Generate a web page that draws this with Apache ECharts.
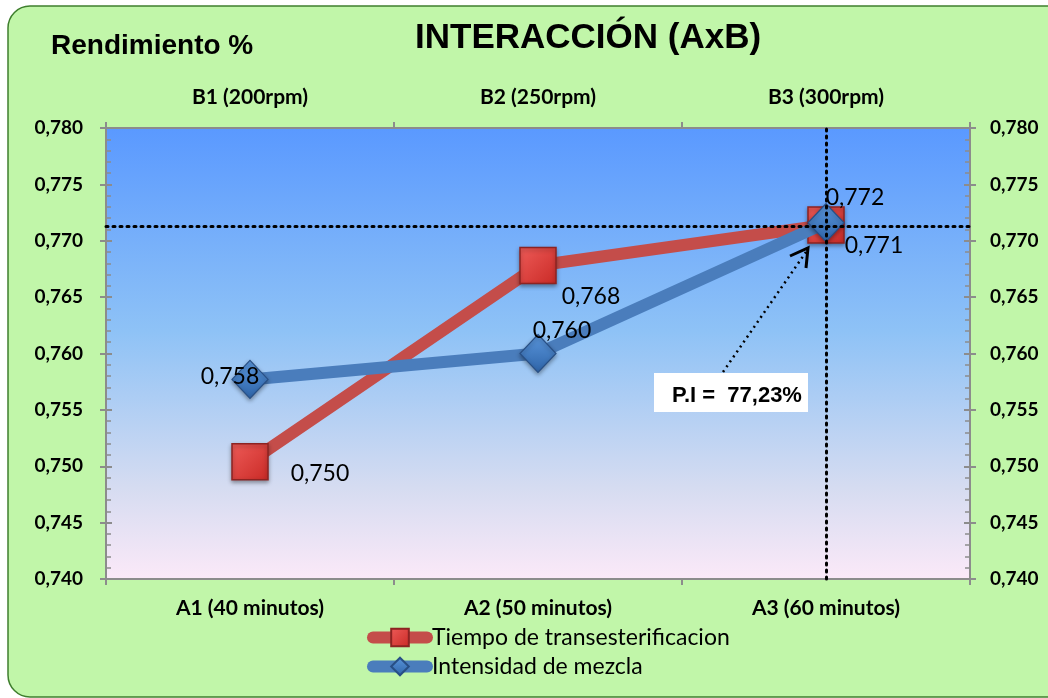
<!DOCTYPE html>
<html><head><meta charset="utf-8">
<script src="https://cdn.jsdelivr.net/npm/echarts@6/dist/echarts.min.js"></script>
<style>html,body{margin:0;padding:0;background:#fff;}#c{width:1048px;height:698px;}</style>
</head><body><div id="c"></div>
<script>
const categoriesA = ['A1 (40 minutos)', 'A2 (50 minutos)', 'A3 (60 minutos)'];
const categoriesB = ['B1 (200rpm)', 'B2 (250rpm)', 'B3 (300rpm)'];
const tiempo = [0.7504, 0.7678, 0.7714];
const intensidad = [0.7577, 0.7600, 0.7716];
const yMin = 0.740, yMax = 0.780, yStep = 0.005;
const piLabel = 'P.I =  77,23%';
const refValue = 0.7713;

const redOffsets = [[70, 12], [53, 31], [48, 21]];
const blueOffsets = [[-20, -3], [24, -23], [29, -25]];

const chart = echarts.init(document.getElementById('c'));
const catFont = {fontFamily: 'Lato', fontWeight: 'bold', fontSize: 21, color: '#000'};
const valFont = {fontFamily: 'Lato', fontWeight: 'bold', fontSize: 19, color: '#000'};
const fmt = v => v.toFixed(3).replace('.', ',');
const gray = '#8c8c8c';

function yAxisDef(pos, labels) {
  return {
    type: 'value', position: pos, min: yMin, max: yMax, interval: yStep,
    axisLine: {show: true, lineStyle: {color: gray, width: 2}},
    axisTick: {show: true, inside: !labels, length: 6, lineStyle: {color: gray, width: 2}},
    minorTick: {show: !labels, splitNumber: 5, length: 5, lineStyle: {color: gray, width: 1.5}},
    axisLabel: {show: labels, ...valFont, margin: pos === 'left' ? 23 : 20, formatter: fmt},
    splitLine: {show: false}
  };
}
const yAxes = [yAxisDef('left', true), yAxisDef('right', true), yAxisDef('left', false), yAxisDef('right', false)];

const option = {
  backgroundColor: '#ffffff',
  animation: false,
  graphic: [
    {type: 'rect', z: -10, shape: {x: 8, y: 6, width: 1070, height: 691, r: 22},
     style: {fill: '#c1f6a9', stroke: '#3f7f2e', lineWidth: 1.5}},
    {type: 'polyline', z: 100, shape: {points: [[723, 372], [806, 252]]},
     style: {stroke: '#000', lineWidth: 2.5, lineDash: [2, 4], fill: null}},
    {type: 'polyline', z: 100, shape: {points: [[790, 256], [808, 248], [806, 268]]},
     style: {stroke: '#000', lineWidth: 3, fill: null}},
    {type: 'rect', z: 100, shape: {x: 654, y: 373, width: 154, height: 39}, style: {fill: '#ffffff'}},
    {type: 'text', z: 101, x: 737, y: 396, style: {text: piLabel, fontFamily: 'Liberation Sans', fontWeight: 'bold', fontSize: 22, fill: '#000', align: 'center', verticalAlign: 'middle'}}
  ],
  title: [
    {text: 'INTERACCIÓN (AxB)', left: 410, top: 16, textStyle: {fontFamily: 'Liberation Sans', fontWeight: 'bold', fontSize: 35, color: '#000'}},
    {text: 'Rendimiento %', left: 46, top: 27, textStyle: {fontFamily: 'Liberation Sans', fontWeight: 'bold', fontSize: 28, color: '#000'}}
  ],
  legend: {
    orient: 'vertical', left: 362, top: 621, itemWidth: 54, itemHeight: 22, itemGap: 6,
    lineStyle: {width: 12, cap: 'round'},
    textStyle: {fontFamily: 'Lato', fontSize: 23, color: '#000'},
    data: ['Tiempo de transesterificacion', 'Intensidad de mezcla']
  },
  grid: {left: 106, right: 78, top: 128, bottom: 119, show: true, borderWidth: 0,
    backgroundColor: new echarts.graphic.LinearGradient(0, 0, 0, 1, [
      {offset: 0, color: '#5a99ff'}, {offset: 0.45, color: '#8ec2f6'}, {offset: 0.8, color: '#d6dcf1'}, {offset: 1, color: '#fbe9f8'}])},
  xAxis: [
    {type: 'category', data: categoriesA, position: 'bottom', boundaryGap: true,
     axisLine: {lineStyle: {color: gray, width: 2}}, axisTick: {show: true, length: 6, lineStyle: {color: gray, width: 2}},
     axisLabel: {...catFont, margin: 19}},
    {type: 'category', data: categoriesB, position: 'top', boundaryGap: true,
     axisLine: {lineStyle: {color: gray, width: 2}}, axisTick: {show: true, length: 6, lineStyle: {color: gray, width: 2}},
     axisLabel: {...catFont, margin: 20}}
  ],
  yAxis: yAxes,
  series: [
    {name: 'Tiempo de transesterificacion', type: 'line', data: tiempo.map((v, i) => ({value: v, label: {offset: redOffsets[i]}})),
     xAxisIndex: 0, yAxisIndex: 0, symbol: 'rect', symbolSize: 36,
     lineStyle: {color: '#c44d4a', width: 12},
     itemStyle: {color: new echarts.graphic.LinearGradient(0, 0, 1, 1, [{offset: 0, color: '#ee5b58'}, {offset: 1, color: '#c92a26'}]),
       borderColor: '#8d2322', borderWidth: 1.5, shadowColor: 'rgba(0,0,0,0.35)', shadowBlur: 4, shadowOffsetY: 2},
     label: {show: true, position: 'inside', formatter: p => fmt(p.value), fontFamily: 'Lato', fontSize: 23, color: '#000'},
     z: 2},
    {name: 'Intensidad de mezcla', type: 'line', data: intensidad.map((v, i) => ({value: v, label: {offset: blueOffsets[i]}})),
     xAxisIndex: 0, yAxisIndex: 0, symbol: 'diamond', symbolSize: [36, 38],
     lineStyle: {color: '#4a7dbc', width: 12},
     itemStyle: {color: new echarts.graphic.LinearGradient(0, 0, 0, 1, [{offset: 0, color: '#5a96dc'}, {offset: 1, color: '#2e64a8'}]),
       borderColor: '#284f85', borderWidth: 1.2, shadowColor: 'rgba(0,0,0,0.35)', shadowBlur: 4, shadowOffsetY: 2},
     label: {show: true, position: 'inside', formatter: p => fmt(p.value), fontFamily: 'Lato', fontSize: 23, color: '#000'},
     markLine: {silent: true, symbol: 'none', precision: 5, label: {show: false},
       lineStyle: {color: '#000', type: [2, 5], width: 3, cap: 'round'},
       data: [{yAxis: refValue}, {xAxis: categoriesA[2]}]},
     z: 3}
  ]
};
chart.setOption(option);
</script></body></html>
